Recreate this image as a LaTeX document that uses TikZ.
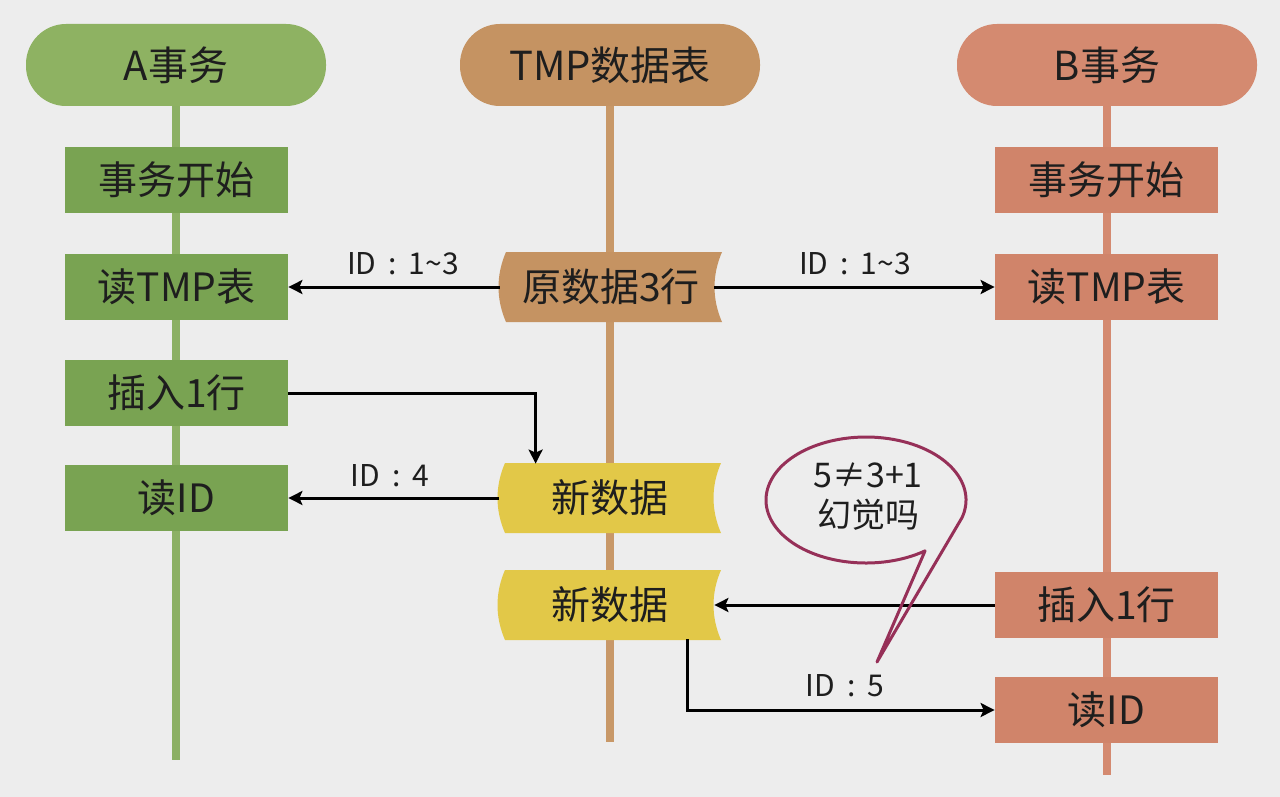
\documentclass[tikz,border=0pt]{standalone}
\usepackage{fontspec}
\setmainfont{Noto Sans CJK SC}
\usetikzlibrary{arrows.meta}
\definecolor{bg}{RGB}{237,237,237}
\definecolor{ahead}{RGB}{142,178,98}
\definecolor{abox}{RGB}{121,163,82}
\definecolor{aline}{RGB}{140,176,100}
\definecolor{thead}{RGB}{197,147,98}
\definecolor{tline}{RGB}{200,152,104}
\definecolor{bhead}{RGB}{212,138,112}
\definecolor{bbox}{RGB}{208,132,106}
\definecolor{tyel}{RGB}{226,200,72}
\definecolor{callc}{RGB}{150,48,88}
\definecolor{ink}{RGB}{30,30,30}
\newcommand\tapeat[5]{%
  \fill[#4] (#2-105,#3-35) -- (#2+111,#3-35)
    .. controls (#2+101,#3-12) and (#2+101,#3+12) .. (#2+111,#3+35)
    -- (#2-105,#3+35)
    .. controls (#2-115,#3+12) and (#2-115,#3-12) .. (#2-105,#3-35) -- cycle;
  \node[tapenode] (#1) at (#2,#3) {#5};}
\newcommand\sep{\hspace{0.4em}:\hspace{0.4em}}
\begin{document}
\begin{tikzpicture}[x=0.5pt,y=-0.5pt,
  head/.style={rounded corners=20pt, minimum width=150pt, minimum height=41pt,
    text=ink, font=\fontsize{20}{24}\selectfont, inner sep=0pt},
  box/.style={minimum width=111.5pt, minimum height=33pt, text=ink,
    font=\fontsize{19.5}{23}\selectfont, inner sep=0pt},
  tapenode/.style={minimum width=111pt, minimum height=34pt, text=ink,
    font=\fontsize{19.5}{23}\selectfont, inner sep=0pt},
  life/.style={line width=4pt},
  arr/.style={line width=1.5pt, draw=black, -{Stealth[length=7pt,width=7pt,inset=1.5pt]}},
  lbl/.style={font=\fontsize{15}{17}\selectfont, text=ink, inner sep=0pt},
  callout/.style={draw=callc, line width=1.5pt, line join=round}
]
\fill[bg] (0,0) rectangle (1280,797);
% lifelines
\draw[life, aline] (176,100) -- (176,760);
\draw[life, tline] (610,100) -- (610,742);
\draw[life, bhead] (1107,100) -- (1107,775);
% headers
\node[head, fill=ahead] (ha) at (176,65) {A事务};
\node[head, fill=thead] (ht) at (610,65) {TMP数据表};
\node[head, fill=bhead] (hb) at (1107,65) {B事务};
% A boxes
\node[box, fill=abox] (astart) at (176.5,180) {事务开始};
\node[box, fill=abox] (aread) at (176.5,287) {读TMP表};
\node[box, fill=abox] (ains) at (176.5,393) {插入1行};
\node[box, fill=abox] (aid) at (176.5,498) {读ID};
% B boxes
\node[box, fill=bbox] (bstart) at (1106.5,180) {事务开始};
\node[box, fill=bbox] (bread) at (1106.5,287) {读TMP表};
\node[box, fill=bbox] (bins) at (1106.5,605) {插入1行};
\node[box, fill=bbox] (bid) at (1106.5,710) {读ID};
% tapes
\tapeat{orig}{611}{287}{thead}{原数据3行}
\tapeat{newa}{610}{498}{tyel}{新数据}
\tapeat{newb}{610}{605}{tyel}{新数据}
% connectors
\draw[arr] (orig.west) -- (aread.east);
\draw[arr] ([xshift=-4pt]orig.east) -- (bread.west);
\draw[arr] (ains.east) -| ([xshift=18.5pt]newa.north west);
\draw[arr] (newa.west) -- (aid.east);
\draw[arr] (bins.west) -- ([xshift=-3.5pt]newb.east);
\draw[arr] ([xshift=-17pt]newb.south east) |- (bid.west);
% labels
\node[lbl] (l1) at (403,264) {ID\sep 1\char`~3};
\node[lbl] (l2) at (855,264) {ID\sep 1\char`~3};
\node[lbl] (l3) at (390,476) {ID\sep 4};
\node[lbl] (l4) at (845,686) {ID\sep 5};
% callout
\coordinate (tip) at (877,662);
\draw[callout] (961.98,517.7) arc[start angle=-16.3, end angle=306.2, x radius=50pt, y radius=31.5pt]
  -- (tip) -- cycle;
\node[align=center, text=ink, font=\fontsize{17}{20}\selectfont, inner sep=0pt] (bubble) at (868,497) {5≠3+1\\幻觉吗};
\end{tikzpicture}
\end{document}
